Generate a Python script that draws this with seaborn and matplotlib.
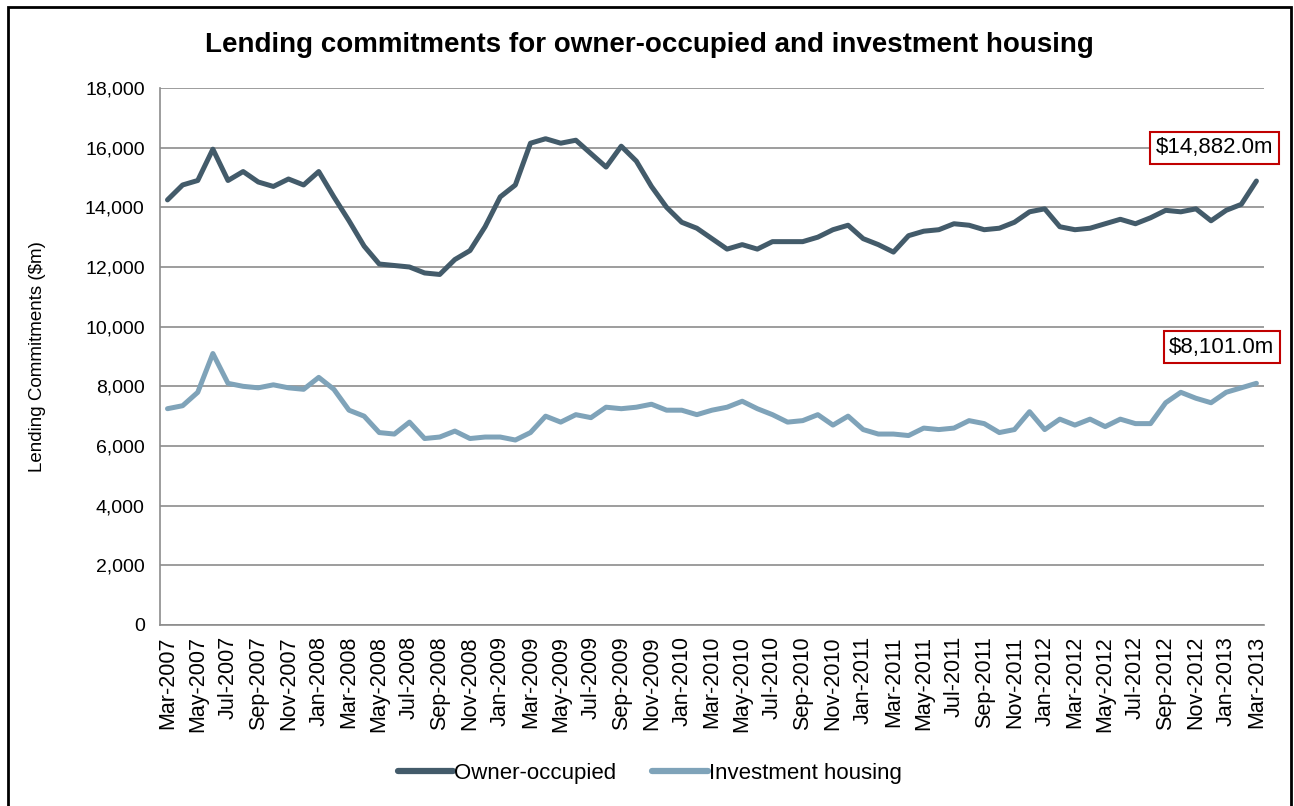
import seaborn as sns
import matplotlib.pyplot as plt
import matplotlib.patches as mpatches
import pandas as pd
import numpy as np

# Datos mensuales Mar-2007 .. Mar-2013 ($m)
meses = pd.date_range("2007-03-01", "2013-03-01", freq="MS").strftime("%b-%Y").tolist()

owner_occupied = [
    14250, 14750, 14900, 15950, 14900, 15200, 14850, 14700, 14950, 14750,
    15200, 14350, 13550, 12700, 12100, 12050, 12000, 11800, 11750, 12250,
    12550, 13350, 14350, 14750, 16150, 16300, 16150, 16250, 15800, 15350,
    16050, 15550, 14700, 14000, 13500, 13300, 12950, 12600, 12750, 12600,
    12850, 12850, 12850, 13000, 13250, 13400, 12950, 12750, 12500, 13050,
    13200, 13250, 13450, 13400, 13250, 13300, 13500, 13850, 13950, 13350,
    13250, 13300, 13450, 13600, 13450, 13650, 13900, 13850, 13950, 13550,
    13900, 14100, 14882,
]

investment_housing = [
    7250, 7350, 7800, 9100, 8100, 8000, 7950, 8050, 7950, 7900,
    8300, 7900, 7200, 7000, 6450, 6400, 6800, 6250, 6300, 6500,
    6250, 6300, 6300, 6200, 6450, 7000, 6800, 7050, 6950, 7300,
    7250, 7300, 7400, 7200, 7200, 7050, 7200, 7300, 7500, 7250,
    7050, 6800, 6850, 7050, 6700, 7000, 6550, 6400, 6400, 6350,
    6600, 6550, 6600, 6850, 6750, 6450, 6550, 7150, 6550, 6900,
    6700, 6900, 6650, 6900, 6750, 6750, 7450, 7800, 7600, 7450,
    7800, 7950, 8101,
]

series_names = ["Owner-occupied", "Investment housing"]
colores = ["#435B6A", "#7FA3B9"]

df = pd.DataFrame({
    "idx": list(range(len(meses))) * 2,
    "valor": owner_occupied + investment_housing,
    "serie": [series_names[0]] * len(meses) + [series_names[1]] * len(meses),
})

sns.set_style("white")
plt.rcParams["font.family"] = ["Liberation Sans", "DejaVu Sans"]
plt.rcParams["text.color"] = "black"
plt.rcParams["axes.labelcolor"] = "black"
plt.rcParams["xtick.color"] = "black"
plt.rcParams["ytick.color"] = "black"

fig = plt.figure(figsize=(12.94, 8.06), dpi=100)
ax = fig.add_axes([0.1236, 0.2246, 0.8532, 0.6662])

sns.lineplot(data=df, x="idx", y="valor", hue="serie", palette=colores,
             linewidth=3.6, ax=ax, legend=False, solid_capstyle="round")

ax.set_xlim(-0.5, len(meses) - 0.5)
ax.set_ylim(0, 18000)
ax.set_yticks(np.arange(0, 18001, 2000))
ax.set_yticklabels([f"{v:,}" for v in range(0, 18001, 2000)], fontsize=14)
ax.set_xticks(range(0, len(meses), 2))
ax.set_xticklabels(meses[::2], rotation=90, fontsize=15.5)
ax.set_xticks(np.arange(-0.5, len(meses), 1), minor=True)
ax.tick_params(axis="x", which="major", length=0, pad=8)
ax.tick_params(axis="x", which="minor", length=5, color="#8C8C8C", width=1.2, direction="out")
ax.tick_params(axis="y", length=5, color="#8C8C8C", width=1.2, direction="out", pad=6)
ax.grid(axis="y", color="#8C8C8C", linewidth=1.2)
ax.set_axisbelow(True)
for lado in ["top", "right"]:
    ax.spines[lado].set_visible(False)
for lado in ["left", "bottom"]:
    ax.spines[lado].set_color("#8C8C8C")
    ax.spines[lado].set_linewidth(1.2)
ax.set_xlabel("")
ax.set_ylabel("Lending Commitments ($m)", fontsize=13.5, labelpad=28)

fig.suptitle("Lending commitments for owner-occupied and investment housing",
             fontsize=20, fontweight="bold", x=0.502, y=0.96)

# etiquetas del ultimo valor
caja = dict(boxstyle="square,pad=0.25", fc="white", ec="#C00000", lw=1.5)
ax.annotate(f"${owner_occupied[-1]:,.1f}m", xy=(len(meses) - 1, owner_occupied[-1]),
            xytext=(-30, 24), textcoords="offset points", ha="center", va="center",
            fontsize=16, bbox=caja, annotation_clip=False)
ax.annotate(f"${investment_housing[-1]:,.1f}m", xy=(len(meses) - 1, investment_housing[-1]),
            xytext=(-25, 26), textcoords="offset points", ha="center", va="center",
            fontsize=16, bbox=caja, annotation_clip=False)

handles = [plt.Line2D([], [], color=c, lw=4.5) for c in colores]
fig.legend(handles, series_names, loc="center", bbox_to_anchor=(0.502, 0.04), ncol=2,
           frameon=False, fontsize=16, handlelength=2.5, handletextpad=0.05, columnspacing=1.6)

fig.patches.append(mpatches.Rectangle((0.006, -0.02), 0.992, 1.011, transform=fig.transFigure,
                                      fill=False, ec="black", lw=2))

fig.savefig("out.png", dpi=100)
